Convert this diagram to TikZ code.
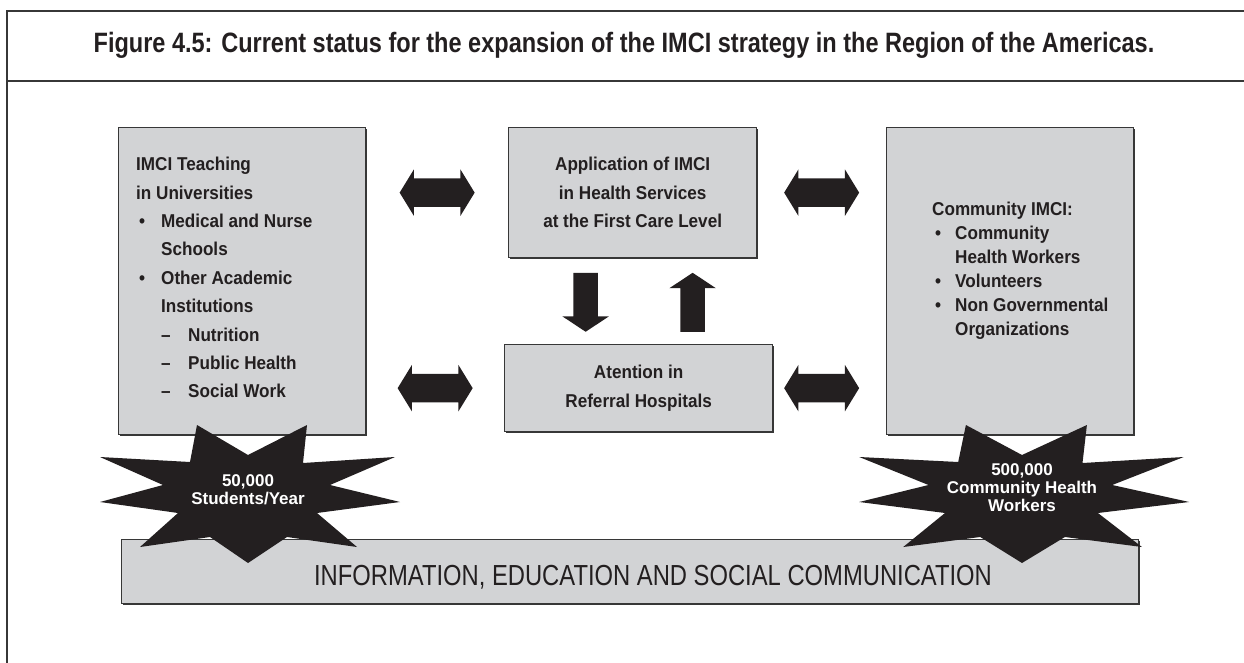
\documentclass[tikz,border=0pt]{standalone}
\usepackage{fontspec}
\setmainfont{Liberation Sans}
\newfontfamily\titlefont{Liberation Sans}[FakeStretch=0.84]
\newfontfamily\boxfont{Liberation Sans}[FakeStretch=0.92]
\newfontfamily\bannerfont{Liberation Sans}[FakeStretch=0.82]
\usetikzlibrary{shapes.arrows,calc,positioning,shadows}
\definecolor{boxgray}{RGB}{210,211,213}
\definecolor{inkdark}{RGB}{35,31,32}
\definecolor{rulegray}{RGB}{55,55,55}

\tikzset{
	panel/.style={draw=rulegray, line width=1.3pt, fill=boxgray, inner sep=0pt,
		drop shadow={shadow xshift=1.2pt, shadow yshift=-1.2pt, fill=rulegray, opacity=1}},
	paneltext/.style={font=\boxfont\bfseries\fontsize{18.6}{28.4}\selectfont, text=inkdark},
	listtext/.style={paneltext, align=left, inner sep=0pt, anchor=north west},
	fatarrow/.style={double arrow, fill=inkdark, inner sep=14pt,
		minimum height=75pt, minimum width=46pt,
		double arrow head extend=9pt, double arrow tip angle=117},
	fatsingle/.style={single arrow, fill=inkdark, inner sep=12pt,
		minimum height=59pt, minimum width=46pt,
		single arrow head extend=11pt, single arrow tip angle=113},
	bursttext/.style={font=\bfseries\fontsize{17}{18}\selectfont, text=white, align=center, inner sep=0pt},
	framerule/.style={draw=rulegray, line width=1.5pt},
	burstpic/.pic={
		\fill[inkdark] (-51,-70) -- (0,-40) -- (59,-70) -- (55,-32) -- (147,-38)
			-- (82,-10) -- (152,7) -- (69,18) -- (109,52) -- (39,42) -- (0,68)
			-- (-38,42) -- (-108,52) -- (-70,18) -- (-148,7) -- (-85,-10)
			-- (-148,-38) -- (-58,-33) -- cycle;
	}
}

\begin{document}
\begin{tikzpicture}[x=1pt, y=-1pt]
	\useasboundingbox (0,0) rectangle (1244,663);

	% frame and title
	\draw[framerule] (7,663) -- (7,11) -- (1244,11);
	\draw[framerule] (7,81) -- (1244,81);
	\node[font=\titlefont\bfseries\fontsize{28}{30}\selectfont, text=inkdark, anchor=base] (title) at (624,53)
		{Figure 4.5: Current status for the expansion of the IMCI strategy in the Region of the Americas.};

	% boxes
	\node[panel, minimum width=247pt, minimum height=307pt, anchor=north west] (uni) at (118,127) {};
	\node[panel, paneltext, align=center, minimum width=248pt, minimum height=130pt, anchor=north west] (apply) at (508,127)
		{Application of IMCI\\in Health Services\\at the First Care Level};
	\node[panel, paneltext, align=center, minimum width=268pt, minimum height=87pt, anchor=north west] (atten) at (504,344)
		{Atention in\\Referral Hospitals};
	\node[panel, minimum width=247pt, minimum height=307pt, anchor=north west] (comm) at (886,127) {};
	\node[panel, minimum width=1017pt, minimum height=64pt, anchor=north west] (iec) at (121,539) {};

	\node[listtext] (unitxt) at (136,157) {IMCI Teaching\\
		in Universities\\
		\hspace*{3pt}\makebox[22pt][l]{\textbullet}Medical and Nurse\\
		\hspace*{25pt}Schools\\
		\hspace*{3pt}\makebox[22pt][l]{\textbullet}Other Academic\\
		\hspace*{25pt}Institutions\\
		\hspace*{25pt}\makebox[27pt][l]{\textendash}Nutrition\\
		\hspace*{25pt}\makebox[27pt][l]{\textendash}Public Health\\
		\hspace*{25pt}\makebox[27pt][l]{\textendash}Social Work};
	\node[listtext, font=\boxfont\bfseries\fontsize{18.6}{24}\selectfont] (commtxt) at (932,202) {Community IMCI:\\
		\hspace*{3pt}\makebox[20pt][l]{\textbullet}Community\\
		\hspace*{23pt}Health Workers\\
		\hspace*{3pt}\makebox[20pt][l]{\textbullet}Volunteers\\
		\hspace*{3pt}\makebox[20pt][l]{\textbullet}Non Governmental\\
		\hspace*{23pt}Organizations};

	\node[font=\bannerfont\fontsize{29}{30}\selectfont, text=inkdark, anchor=base] (iectxt) at (653,585)
		{INFORMATION, EDUCATION AND SOCIAL COMMUNICATION};

	% arrows
	\node[fatarrow] (ulink) at ($(uni.east |- apply.center)!0.5!(apply.west)$) {};
	\node[fatarrow] (llink) at ($(uni.east |- atten.center)!0.5!(atten.west)$) {};
	\node[fatarrow] (urlink) at ($(apply.east)!0.5!(comm.west |- apply.center)$) {};
	\node[fatarrow] (lrlink) at ($(apply.east |- atten.center)!0.5!(comm.west |- atten.center)$) {};
	\node[fatsingle, shape border rotate=270, anchor=tip] (down) at ($(atten.north)+(-53,-12)$) {};
	\node[fatsingle, shape border rotate=90, anchor=tail] (up) at ($(atten.north)+(54,-12)$) {};

	% bursts
	\coordinate (burstL) at (248,495);
	\coordinate (burstR) at (1022,495);
	\pic at (burstL) {burstpic};
	\pic[xscale=1.1] at (burstR) {burstpic};
	\node[bursttext] (students) at ([yshift=5pt]burstL) {50,000\\Students/Year};
	\node[bursttext] (workers) at ([yshift=7pt]burstR) {500,000\\Community Health\\Workers};
\end{tikzpicture}
\end{document}
